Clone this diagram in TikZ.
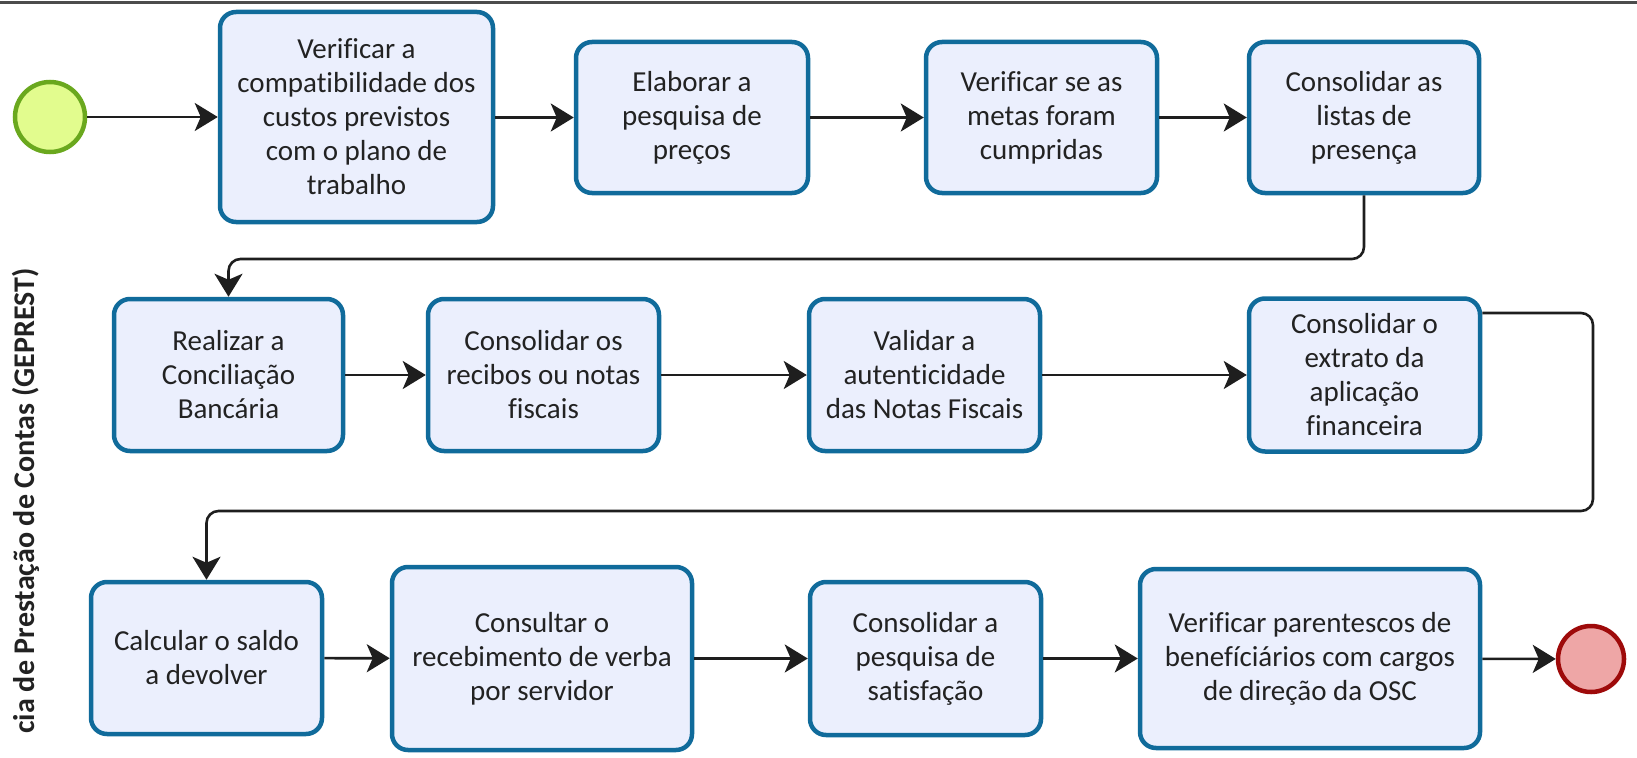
\documentclass[tikz,border=0pt]{standalone}
\usepackage{fontspec}
\setmainfont{Carlito}[Ligatures=NoCommon, RawFeature={-liga;-clig;-calt}]
\usetikzlibrary{arrows.meta,calc}
\definecolor{taskfill}{HTML}{EBEFFD}
\definecolor{taskline}{HTML}{106B9B}
\definecolor{txt}{HTML}{222222}
\definecolor{flowc}{HTML}{1E1E1E}
\definecolor{startfill}{HTML}{E2FC8E}
\definecolor{startline}{HTML}{6AA81E}
\definecolor{endfill}{HTML}{EEA6A6}
\definecolor{endline}{HTML}{9E0A0A}
\begin{document}
\begin{tikzpicture}[x=1pt,y=-1pt,
  task/.style={draw=taskline, fill=taskfill, line width=4.5pt, rounded corners=16pt,
    align=center, inner sep=0pt, text=txt, font=\fontsize{29}{34}\selectfont},
  sz/.style 2 args={minimum width=#1pt, minimum height=#2pt},
  flow/.style={draw=flowc, line width=2.6pt, rounded corners=12pt,
    -{Stealth[length=23pt,width=28pt,inset=6pt]}},
  evt/.style={circle, line width=4.5pt, inner sep=0pt, minimum size=#1pt}]
\useasboundingbox (0,0) rectangle (1637,757);
\draw[line width=3pt, color=black!70] (0,3) -- (1637,3);

\node[rotate=90, anchor=base east, text=txt, inner sep=0pt, font=\fontsize{30}{35}\selectfont\bfseries] (title) at (34,268) {cia de Prestação de Contas (GEPREST)};

\node[evt=70, draw=startline, fill=startfill] (s) at (50,117) {};
\node[task, sz={273}{210}] (b1) at (356.5,117) {Verificar a\\compatibilidade dos\\custos previstos\\com o plano de\\trabalho};
\node[task, sz={232}{151}] (b2) at (692,117.5) {Elaborar a\\pesquisa de\\preços};
\node[task, sz={231}{151}] (b3) at (1041.5,117.5) {Verificar se as\\metas foram\\cumpridas};
\node[task, sz={230}{151}] (b4) at (1364,117.5) {Consolidar as\\listas de\\presença};

\node[task, sz={229}{152}] (b5) at (228.5,375) {Realizar a\\Conciliação\\Bancária};
\node[task, sz={231}{152}] (b6) at (543.5,375) {Consolidar os\\recibos ou notas\\fiscais};
\node[task, sz={231}{152}] (b7) at (924.5,375) {Validar a\\autenticidade\\das Notas Fiscais};
\node[task, sz={231}{153}] (b8) at (1364.5,375) {Consolidar o\\extrato da\\aplicação\\financeira};

\node[task, sz={231}{152}] (b9) at (206.5,658) {Calcular o saldo\\a devolver};
\node[task, sz={300}{183}] (b10) at (542,658.5) {Consultar o\\recebimento de verba\\por servidor};
\node[task, sz={231}{153}] (b11) at (925.5,658.5) {Consolidar a\\pesquisa de\\satisfação};
\node[task, sz={340}{179}] (b12) at (1310,658.5) {Verificar parentescos de\\benefíciários com cargos\\de direção da OSC};
\node[evt=66, draw=endline, fill=endfill] (e) at (1591,659) {};

\coordinate (k1) at (1364,259);
\coordinate (k2) at (228.5,259);
\coordinate (k3) at (1593,313);
\coordinate (k4) at (1593,511);
\coordinate (k5) at (206.5,511);

\draw[flow] (s) -- (b1);
\draw[flow] (b1.east |- b2.west) -- (b2.west);
\draw[flow] (b2) -- (b3);
\draw[flow] (b3) -- (b4);
\draw[flow] (b4.south) -- (k1) -- (k2) -- (b5.north);
\draw[flow] (b5) -- (b6);
\draw[flow] (b6) -- (b7);
\draw[flow] (b7) -- (b8);
\draw[flow] (b8.east |- k3) -- (k3) -- (k4) -- (k5) -- (b9.north);
\draw[flow] (b9) -- (b10);
\draw[flow] (b10) -- (b11);
\draw[flow] (b11) -- (b12);
\draw[flow] (b12) -- (e);
\end{tikzpicture}
\end{document}
